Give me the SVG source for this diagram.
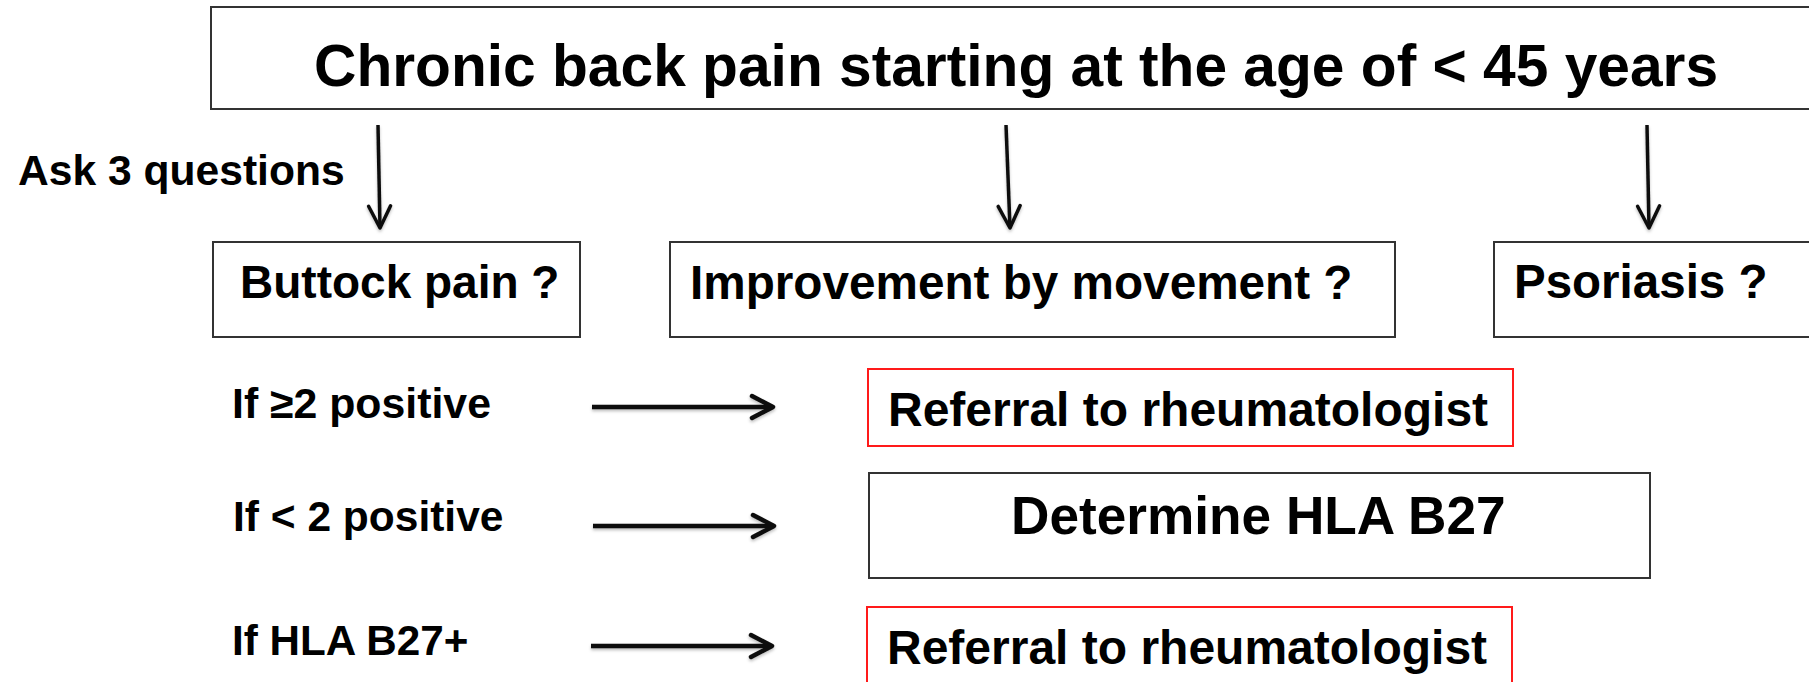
<svg xmlns="http://www.w3.org/2000/svg" width="1809" height="682" viewBox="0 0 1809 682">
  <style>
    .t { font-family: "Liberation Sans", Arial, Helvetica, sans-serif; font-weight: bold; fill: #000; }
    .box { fill: #fff; stroke: #333; stroke-width: 2; }
    .red { fill: #fff; stroke: #ff1a1a; stroke-width: 2; }
    .down { stroke: #111; stroke-width: 3.5; fill: none; }
    .right { stroke: #111; stroke-width: 4.5; fill: none; }
  </style>
  <defs>
    <filter id="shadow" x="-10%" y="-50%" width="120%" height="200%">
      <feDropShadow dx="0" dy="2" stdDeviation="1.5" flood-color="#000" flood-opacity="0.25"/>
    </filter>
    <marker id="headDown" markerUnits="userSpaceOnUse" viewBox="-26 -14 30 28" markerWidth="30" markerHeight="28" refX="0" refY="0" orient="auto">
      <path d="M-22,-11 L0,0 L-22,11" fill="none" stroke="#111" stroke-width="3.5" stroke-linecap="round" stroke-linejoin="round"/>
    </marker>
    <marker id="headRight" markerUnits="userSpaceOnUse" viewBox="-26 -14 30 28" markerWidth="30" markerHeight="28" refX="0" refY="0" orient="auto">
      <path d="M-21,-11 L0,0 L-21,11" fill="none" stroke="#111" stroke-width="4.5" stroke-linecap="round" stroke-linejoin="round"/>
    </marker>
  </defs>
  <rect width="1809" height="682" fill="#fff"/>

  <!-- header -->
  <g id="start">
    <rect class="box" x="211" y="7" width="1610" height="102"/>
    <text class="t" x="314" y="86" font-size="58.7">Chronic back pain starting at the age of &lt; 45 years</text>
  </g>

  <g id="ask-label">
    <text class="t" x="18" y="185" font-size="42.6">Ask 3 questions</text>
  </g>

  <!-- the three questions -->
  <g id="q-buttock">
    <rect class="box" x="213" y="242" width="367" height="95"/>
    <text class="t" x="240" y="298" font-size="46">Buttock pain ?</text>
  </g>
  <g id="q-movement">
    <rect class="box" x="670" y="242" width="725" height="95"/>
    <text class="t" x="690" y="299" font-size="47.7">Improvement by movement ?</text>
  </g>
  <g id="q-psoriasis">
    <rect class="box" x="1494" y="242" width="330" height="95"/>
    <text class="t" x="1514" y="298" font-size="47.5">Psoriasis ?</text>
  </g>

  <!-- decision rules -->
  <g id="rule-ge2">
    <text class="t" x="232" y="418" font-size="42.8">If ≥2 positive</text>
  </g>
  <g id="rule-lt2">
    <text class="t" x="233" y="531" font-size="42.5">If &lt; 2 positive</text>
  </g>
  <g id="rule-b27">
    <text class="t" x="232" y="655" font-size="42.2">If HLA B27+</text>
  </g>

  <!-- outcomes -->
  <g id="referral-1">
    <rect class="red" x="868" y="369" width="645" height="77"/>
    <text class="t" x="888" y="426" font-size="48">Referral to rheumatologist</text>
  </g>
  <g id="determine-b27">
    <rect class="box" x="869" y="473" width="781" height="105"/>
    <text class="t" x="1011" y="534" font-size="53.2">Determine HLA B27</text>
  </g>
  <g id="referral-2">
    <rect class="red" x="867" y="607" width="645" height="90"/>
    <text class="t" x="887" y="664" font-size="48">Referral to rheumatologist</text>
  </g>

  <!-- connectors -->
  <g id="connectors" filter="url(#shadow)">
    <line class="down" x1="378" y1="125" x2="380" y2="228" marker-end="url(#headDown)"/>
    <line class="down" x1="1006" y1="125" x2="1010" y2="228" marker-end="url(#headDown)"/>
    <line class="down" x1="1647" y1="125" x2="1649" y2="228" marker-end="url(#headDown)"/>
    <line class="right" x1="592" y1="407" x2="773" y2="407" marker-end="url(#headRight)"/>
    <line class="right" x1="593" y1="526" x2="774" y2="526" marker-end="url(#headRight)"/>
    <line class="right" x1="591" y1="646" x2="772" y2="646" marker-end="url(#headRight)"/>
  </g>
</svg>
